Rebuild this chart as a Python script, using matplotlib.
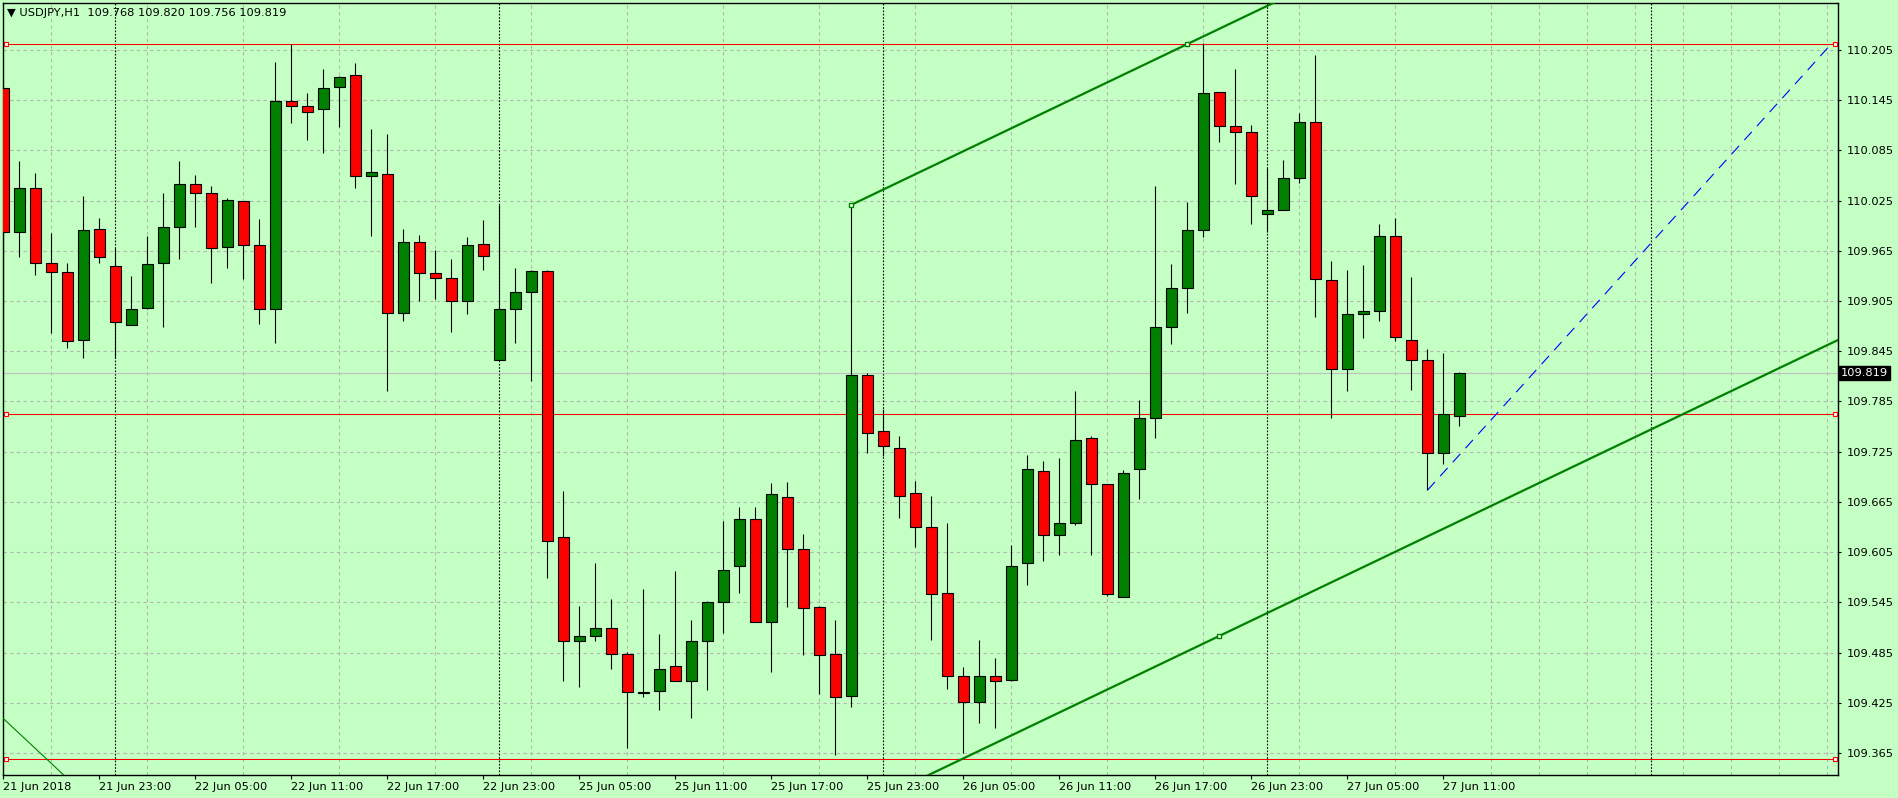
import matplotlib
matplotlib.use("Agg")
import matplotlib.pyplot as plt
import matplotlib.transforms as mtransforms
import numpy as np
import pandas as pd

# USDJPY H1 candles, 21 Jun 17:00 .. 27 Jun 12:00
opens = [110.160, 109.987, 110.040, 109.950, 109.940, 109.858, 109.991, 109.947, 109.876, 109.897,
         109.950, 109.993, 110.045, 110.034, 109.969, 110.025, 109.972, 109.895, 110.144, 110.138,
         110.134, 110.161, 110.175, 110.054, 110.057, 109.891, 109.975, 109.939, 109.933, 109.905,
         109.973, 109.835, 109.896, 109.916, 109.941, 109.623, 109.499, 109.505, 109.515, 109.483,
         109.438, 109.439, 109.469, 109.451, 109.499, 109.545, 109.589, 109.645, 109.522, 109.671,
         109.609, 109.539, 109.483, 109.433, 109.817, 109.750, 109.729, 109.676, 109.635, 109.556,
         109.457, 109.426, 109.457, 109.452, 109.592, 109.702, 109.626, 109.640, 109.741, 109.686,
         109.552, 109.704, 109.765, 109.874, 109.921, 109.990, 110.155, 110.114, 110.107, 110.009,
         110.014, 110.052, 110.119, 109.930, 109.824, 109.889, 109.893, 109.983, 109.859, 109.834,
         109.724, 109.768]
highs = [110.163, 110.072, 110.058, 109.986, 109.950, 110.031, 110.004, 109.968, 109.935, 109.983,
         110.034, 110.072, 110.055, 110.043, 110.028, 110.025, 110.003, 110.190, 110.212, 110.153,
         110.182, 110.174, 110.189, 110.111, 110.104, 109.991, 109.984, 109.966, 109.955, 109.982,
         110.002, 110.020, 109.944, 109.942, 109.942, 109.678, 109.541, 109.592, 109.549, 109.486,
         109.561, 109.507, 109.582, 109.524, 109.547, 109.642, 109.659, 109.659, 109.688, 109.689,
         109.627, 109.541, 109.524, 110.020, 109.819, 109.776, 109.744, 109.690, 109.672, 109.640,
         109.468, 109.500, 109.479, 109.614, 109.721, 109.714, 109.717, 109.798, 109.744, 109.686,
         109.703, 109.787, 110.042, 109.949, 110.023, 110.213, 110.155, 110.182, 110.115, 110.064,
         110.074, 110.130, 110.199, 109.953, 109.942, 109.948, 109.997, 110.004, 109.934, 109.848,
         109.843, 109.820]
lows = [109.846, 109.957, 109.936, 109.867, 109.849, 109.837, 109.950, 109.837, 109.876, 109.895,
        109.874, 109.955, 109.993, 109.927, 109.945, 109.931, 109.877, 109.855, 110.118, 110.097,
        110.082, 110.113, 110.040, 109.983, 109.797, 109.881, 109.905, 109.908, 109.868, 109.890,
        109.942, 109.835, 109.855, 109.810, 109.574, 109.451, 109.444, 109.499, 109.466, 109.371,
        109.432, 109.417, 109.451, 109.407, 109.440, 109.508, 109.556, 109.522, 109.462, 109.539,
        109.482, 109.436, 109.363, 109.420, 109.723, 109.720, 109.646, 109.611, 109.500, 109.441,
        109.365, 109.401, 109.395, 109.451, 109.566, 109.595, 109.602, 109.638, 109.602, 109.553,
        109.551, 109.669, 109.741, 109.854, 109.891, 109.981, 110.095, 110.045, 109.997, 109.987,
        110.014, 110.046, 109.886, 109.765, 109.797, 109.861, 109.881, 109.857, 109.799, 109.679,
        109.710, 109.756]
closes = [109.987, 110.040, 109.950, 109.940, 109.857, 109.990, 109.958, 109.880, 109.896, 109.949,
          109.993, 110.045, 110.034, 109.968, 110.026, 109.972, 109.896, 110.144, 110.138, 110.131,
          110.159, 110.173, 110.054, 110.059, 109.891, 109.975, 109.939, 109.933, 109.905, 109.972,
          109.959, 109.896, 109.916, 109.941, 109.618, 109.499, 109.505, 109.514, 109.483, 109.438,
          109.437, 109.465, 109.451, 109.499, 109.545, 109.584, 109.645, 109.522, 109.674, 109.609,
          109.538, 109.482, 109.432, 109.817, 109.747, 109.732, 109.672, 109.635, 109.555, 109.457,
          109.426, 109.457, 109.451, 109.589, 109.704, 109.625, 109.640, 109.739, 109.687, 109.555,
          109.700, 109.765, 109.874, 109.921, 109.990, 110.153, 110.114, 110.107, 110.030, 110.014,
          110.052, 110.119, 109.931, 109.824, 109.889, 109.893, 109.983, 109.862, 109.835, 109.724,
          109.770, 109.819]

times = list(pd.date_range("2018-06-21 17:00", "2018-06-22 23:00", freq="h")) + \
        list(pd.date_range("2018-06-25 00:00", periods=61, freq="h"))

price_levels = [110.205, 110.145, 110.085, 110.025, 109.965, 109.905, 109.845, 109.785,
                109.725, 109.665, 109.605, 109.545, 109.485, 109.425, 109.365]
hlines_red = [110.212, 109.770, 109.358]
last_price = 109.819
day_starts = [7, 31, 55, 79, 103]          # bar index of midnight separators
channel_a = (53, 110.020)                   # channel anchors (bar, price)
channel_b = (74, 110.212)
channel_c = (76, 109.505)
small_line = [(-0.05, 109.407), (3.64, 109.341)]
blue_line = [(89, 109.679), (114, 110.207)]

BG = "#c4ffc4"
GREEN = "#008000"

fig = plt.figure(figsize=(18.98, 7.98), dpi=100, facecolor=BG)
ax = fig.add_axes([2.5 / 1898, 1 - 774.6 / 798, (1838 - 2.5) / 1898, (774.6 - 2.5) / 798])
ax.set_facecolor(BG)
plt.rcParams["font.family"] = ["DejaVu Sans"]

n = len(opens)
x = np.arange(n)
xmax = 114.66
ax.set_xlim(-0.0625, xmax)
ax.set_ylim(109.3393, 110.2616)

# grid
ax.set_yticks(price_levels)
ax.set_yticklabels([f"{p:.3f}" for p in price_levels])
ax.set_xticks(np.arange(0, 91, 6))
ax.set_xticks(np.arange(0, 115, 3), minor=True)
lab = [f"{times[i]:%d %b %H:%M}" for i in range(0, 91, 6)]
lab[0] = "21 Jun 2018"
ax.set_xticklabels(lab, ha="left")
ax.grid(axis="y", which="major", color="#b0b8b0", linestyle=(0, (3, 3)), linewidth=0.8, zorder=0)
ax.grid(axis="x", which="minor", color="#b0b8b0", linestyle=(0, (3, 3)), linewidth=0.8, zorder=0)
ax.set_axisbelow(True)

ax.yaxis.tick_right()
ax.tick_params(axis="y", direction="out", length=2.5, width=0.8, pad=3.5, labelsize=8.2, colors="black")
ax.tick_params(axis="x", which="major", direction="out", length=3, width=0.8, pad=2, labelsize=8.2)
ax.tick_params(axis="x", which="minor", length=0)
for s in ax.spines.values():
    s.set_color("black")
    s.set_linewidth(1.0)

# day separators
for d in day_starts:
    ax.axvline(d, color="black", linestyle=(0, (1.5, 1.5)), linewidth=0.8, zorder=1)

# horizontal objects
ax.axhline(last_price, color="#c0c0c0", linewidth=0.8, zorder=1)
trans_ax = mtransforms.blended_transform_factory(ax.transAxes, ax.transData)
for p in hlines_red:
    ax.axhline(p, color="red", linewidth=0.75, zorder=1)
    ax.plot([0.0018, 0.9985], [p, p], transform=trans_ax, linestyle="none", marker="s",
            markersize=3.5, markerfacecolor="white", markeredgecolor="red", markeredgewidth=0.8,
            zorder=5, clip_on=False)

# candles
for i in range(n):
    o, h, l, c = opens[i], highs[i], lows[i], closes[i]
    ax.vlines(x[i], l, h, color="black", linewidth=0.8, zorder=3)
    col = GREEN if c >= o else "red"
    ax.bar(x[i], max(abs(c - o), 0.0008), bottom=min(o, c), width=0.65, color=col,
           edgecolor="black", linewidth=0.8, zorder=4)

# equidistant channel
slope = (channel_b[1] - channel_a[1]) / (channel_b[0] - channel_a[0])
xe = np.array([channel_a[0], xmax + 1])
ax.plot(xe, channel_a[1] + slope * (xe - channel_a[0]), color=GREEN, linewidth=1.6, zorder=5)
ax.plot(xe, channel_c[1] + slope * (xe - channel_c[0]), color=GREEN, linewidth=1.6, zorder=5)
ax.plot([channel_a[0], channel_b[0], channel_c[0]], [channel_a[1], channel_b[1], channel_c[1]],
        linestyle="none", marker="s", markersize=3.5, markerfacecolor="white",
        markeredgecolor=GREEN, markeredgewidth=1.0, zorder=6)

# small descending line bottom-left
(sx0, sy0), (sx1, sy1) = small_line
s2 = (sy1 - sy0) / (sx1 - sx0)
xs = np.array([-1, 6])
ax.plot(xs, sy0 + s2 * (xs - sx0), color=GREEN, linewidth=0.8, zorder=5)

# blue dashed line
ax.plot([blue_line[0][0], blue_line[1][0]], [blue_line[0][1], blue_line[1][1]], color="blue",
        linewidth=0.8, linestyle=(0, (10, 7)), zorder=5)

# last price label
ax.text(1.0016, last_price, f"{last_price:.3f}", transform=trans_ax, color="white", fontsize=8.2,
        va="center", ha="left",
        bbox=dict(boxstyle="square,pad=0.2", facecolor="black", edgecolor="black"), zorder=7)

fig.text(7 / 1898, 1 - 13 / 798,
         f"\u25bc USDJPY,H1  {opens[-1]:.3f} {highs[-1]:.3f} {lows[-1]:.3f} {closes[-1]:.3f}",
         fontsize=8.2, va="center", ha="left", color="black")

fig.savefig("out.png", dpi=100, facecolor=BG)
